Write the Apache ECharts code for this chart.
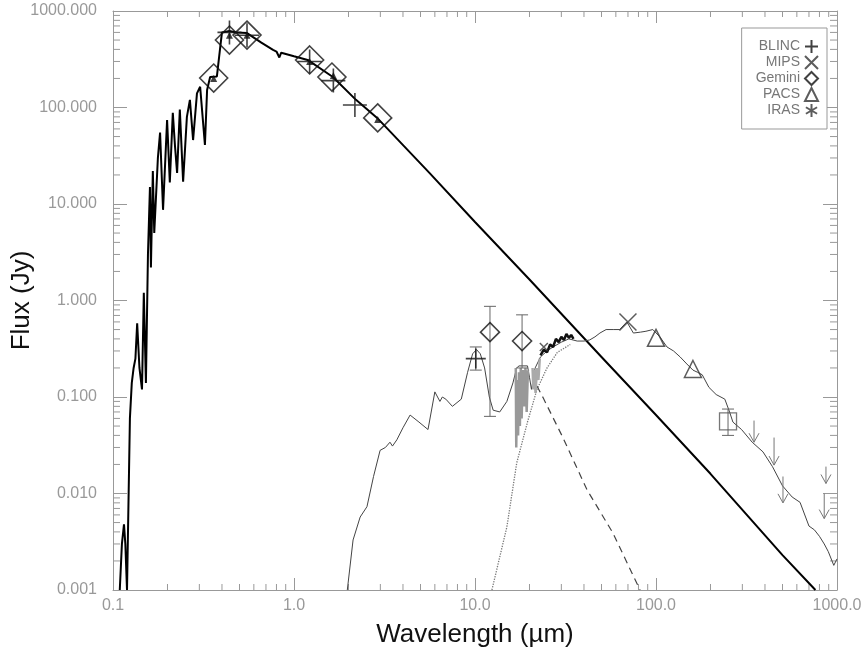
<!DOCTYPE html>
<html><head><meta charset="utf-8">
<script src="https://cdn.jsdelivr.net/npm/echarts@6/dist/echarts.min.js"></script>
<style>html,body{margin:0;padding:0;background:#fff}#c{width:865px;height:654px}</style>
</head><body><div id="c"></div>
<script>
// ---------- tick labels ----------
const xTickLabels = ['0.1', '1.0', '10.0', '100.0', '1000.0'];
const yTickLabels = ['0.001', '0.010', '0.100', '1.000', '10.000', '100.000', '1000.000'];

// ---------- model curves [wavelength um, flux Jy] ----------
const photosphere = [
  [0.109,0.001],[0.112,0.003],[0.115,0.0048],[0.117,0.003],[0.1195,0.001],
  [0.121,0.001],[0.124,0.06],[0.127,0.14],[0.130,0.2],[0.133,0.25],[0.136,0.58],[0.140,0.2],
  [0.1446,0.12],[0.148,1.2],[0.152,0.14],[0.156,3],[0.160,15],[0.162,2.2],[0.166,22],[0.169,5],
  [0.177,30],[0.182,55],[0.189,8.7],[0.199,74],[0.206,16.7],[0.214,88],[0.220,40],[0.226,21],
  [0.234,95],[0.244,17],[0.256,80],[0.266,120],[0.277,46],[0.291,140],[0.303,164],[0.322,41],
  [0.331,152],[0.344,207],[0.375,210],[0.39,400],[0.40,600],[0.44,620],[0.48,600],[0.55,590],
  [0.66,470],[0.766,395],[0.80,380],[0.83,330],[0.85,370],[1.0,340],[1.19,311],[1.64,207],
  [2.2,120],[2.88,78],[5.6,21],[10,6.5],[20,1.65],[50,0.26],[100,0.065],[200,0.016],
  [500,0.0023],[760,0.001]
];
const diskModel = [
  [1.97,0.001],[2.12,0.0033],[2.32,0.0057],[2.53,0.0073],[2.75,0.015],[2.99,0.028],[3.2,0.03],
  [3.39,0.034],[3.5,0.031],[3.70,0.036],[4.0,0.048],[4.38,0.065],[4.9,0.055],[5.5,0.046],
  [6.0,0.113],[6.4,0.09],[6.6,0.1],[6.9,0.095],[7.5,0.08],[8.4,0.095],[9.1,0.18],[9.7,0.28],
  [10.2,0.31],[10.7,0.28],[11.3,0.2],[12.0,0.1],[12.6,0.073],[13.7,0.07],[15,0.09],[16.2,0.14],
  [17.0,0.2],[17.5,0.21],[19.5,0.21],[20,0.16],[20.5,0.12],[21.5,0.2],[23,0.26],[25,0.3],
  [27,0.33],[30,0.37],[33,0.4],[36.7,0.38],[40,0.38],[43,0.39],[46,0.42],[49,0.46],[53,0.5],
  [58,0.5],[63,0.5],[69,0.6],[75,0.46],[82,0.47],[88,0.48],[96,0.5],[105,0.42],[115,0.33],
  [125,0.3],[136,0.26],[148,0.22],[160,0.19],[170,0.18],[180,0.17],[196,0.126],[215,0.106],
  [240,0.095],[255,0.07],[266,0.055],[297,0.046],[340,0.034],[390,0.027],[440,0.019],
  [500,0.012],[565,0.0092],[625,0.0081],[700,0.0046],[750,0.0042],[800,0.0036],[850,0.003],
  [895,0.0025],[960,0.0018],[1000,0.0021]
];
const coldDust = [[12.4,0.001],[15,0.0045],[17,0.0207],[19.5,0.055],[22,0.12],[25,0.2],[28.5,0.29],[33.6,0.35]];
const warmDust = [[22,0.13],[23.8,0.098],[30.6,0.038],[41.6,0.0109],[57.8,0.0039],[81.6,0.001]];
const irsA = [[16.8,0.2],[16.9,0.03],[17.1,0.15],[17.3,0.04],[17.5,0.18],[17.7,0.05],[17.9,0.2],
  [18.1,0.06],[18.4,0.19],[18.7,0.08],[19.0,0.2],[19.3,0.07],[19.6,0.19]];
const irsB = [[20.8,0.2],[21.0,0.12],[21.3,0.19],[21.6,0.11],[22.0,0.2],[22.4,0.15],[22.8,0.25]];
const irsC = [[23,0.27],[24,0.31],[25,0.29],[26,0.35],[27,0.33],[28,0.4],[29,0.37],[30,0.42],
  [31,0.39],[32,0.45],[33,0.41],[34,0.44],[35,0.4]];

// ---------- photometry ----------
const blinc = [[0.44,600],[0.55,560],[1.22,300],[1.65,190],[2.17,106],[10.1,0.25]];
const mips = [[24,0.33],[70,0.6]];
const gemini = [[0.36,202],[0.44,500],[0.55,563],[1.22,311],[1.62,207],[2.9,78],[12.1,0.47],[18.2,0.38]];
const pacs = [[100,0.41],[160,0.195]];
const iras = [];
const spire = [[250,0.056]];
const optPhot = [[0.36,200],[0.44,560],[0.55,560],[1.22,300],[1.65,215],[2.9,75]];
// error bars [wavelength, low, high]
const errBars = [[12.1,0.063,0.87],[18.2,0.2,0.71],[10.1,0.19,0.33],[250,0.04,0.075]];
// upper limits [wavelength, start, arrow head]
const upperLimits = [[348,0.057,0.034],[449,0.038,0.0197],[503,0.015,0.008],[869,0.019,0.0127],[850,0.01,0.0055]];

// ---------- minor ticks ----------
const minorX = [], minorY = [];
for (let e = -1; e < 3; e++) for (let m = 2; m < 10; m++) minorX.push([m * Math.pow(10, e), 1]);
for (let e = -3; e < 3; e++) for (let m = 2; m < 10; m++) minorY.push([1, m * Math.pow(10, e)]);

const AXC = '#999';
const FONT = 'Liberation Sans, Arial, sans-serif';
const SYM_PLUS = 'path://M0,5L10,5M5,0L5,10';
const SYM_X = 'path://M0,0L10,10M10,0L0,10';
const SYM_AST = 'path://M5,0L5,10M0.7,2.5L9.3,7.5M0.7,7.5L9.3,2.5';

function lineSeries(name, data, color, width, type) {
  return { name, type: 'line', data, showSymbol: false, symbol: 'none', silent: true,
    lineStyle: { color, width, type: type || 'solid' }, z: 2 };
}

const chart = echarts.init(document.getElementById('c'), null, { renderer: 'canvas' });
const option = {
  animation: false,
  backgroundColor: '#fff',
  textStyle: { fontFamily: FONT },
  grid: { left: 113, right: 28, top: 11, bottom: 64, containLabel: false, outerBoundsMode: 'none' },
  legend: {
    orient: 'vertical', right: 38, top: 28, align: 'right',
    itemWidth: 13, itemHeight: 13, itemGap: 1,
    padding: [11, 8, 11, 14],
    borderColor: '#999', borderWidth: 1, backgroundColor: '#fff',
    textStyle: { fontSize: 14, color: '#777', fontFamily: FONT },
    data: ['BLINC', 'MIPS', 'Gemini', 'PACS', 'IRAS']
  },
  xAxis: [{
    type: 'log', logBase: 10, min: 0.1, max: 1000, position: 'bottom',
    name: 'Wavelength (µm)', nameLocation: 'middle', nameGap: 32, nameMoveOverlap: false,
    nameTextStyle: { fontSize: 26, color: '#111', fontFamily: FONT },
    axisLine: { show: true, lineStyle: { color: AXC, width: 1 } },
    axisTick: { show: true, inside: true, length: 12, lineStyle: { color: AXC } },
    axisLabel: { fontSize: 16, color: '#999', margin: 8, fontFamily: FONT,
      formatter: v => xTickLabels[Math.round(Math.log10(v)) + 1] },
    splitLine: { show: false }
  }, {
    type: 'log', logBase: 10, min: 0.1, max: 1000, position: 'top',
    axisLine: { show: true, lineStyle: { color: AXC, width: 1 } },
    axisTick: { show: true, inside: true, length: 12, lineStyle: { color: AXC } },
    axisLabel: { show: false }, splitLine: { show: false }
  }],
  yAxis: [{
    type: 'log', logBase: 10, min: 0.001, max: 1000, position: 'left',
    name: 'Flux (Jy)', nameLocation: 'middle', nameGap: 78, nameRotate: 90, nameMoveOverlap: false,
    nameTextStyle: { fontSize: 26, color: '#111', fontFamily: FONT },
    axisLine: { show: true, lineStyle: { color: AXC, width: 1 } },
    axisTick: { show: true, inside: true, length: 14, lineStyle: { color: AXC } },
    axisLabel: { fontSize: 16, color: '#999', margin: 16, fontFamily: FONT,
      formatter: v => yTickLabels[Math.round(Math.log10(v)) + 3] },
    splitLine: { show: false }
  }, {
    type: 'log', logBase: 10, min: 0.001, max: 1000, position: 'right',
    axisLine: { show: true, lineStyle: { color: AXC, width: 1 } },
    axisTick: { show: true, inside: true, length: 14, lineStyle: { color: AXC } },
    axisLabel: { show: false }, splitLine: { show: false }
  }],
  series: [
    // minor ticks
    { type: 'custom', silent: true, data: minorX, encode: { x: 0, y: 1 }, z: 1,
      renderItem: (params, api) => {
        const cs = params.coordSys;
        const x = api.coord([api.value(0), 1])[0];
        const yb = cs.y + cs.height, yt = cs.y;
        const st = { stroke: AXC, lineWidth: 1 };
        return { type: 'group', children: [
          { type: 'line', shape: { x1: x, y1: yb, x2: x, y2: yb - 6 }, style: st },
          { type: 'line', shape: { x1: x, y1: yt, x2: x, y2: yt + 6 }, style: st } ] };
      } },
    { type: 'custom', silent: true, data: minorY, encode: { x: 0, y: 1 }, z: 1,
      renderItem: (params, api) => {
        const cs = params.coordSys;
        const y = api.coord([1, api.value(1)])[1];
        const xl = cs.x, xr = cs.x + cs.width;
        const st = { stroke: AXC, lineWidth: 1 };
        return { type: 'group', children: [
          { type: 'line', shape: { x1: xl, y1: y, x2: xl + 7, y2: y }, style: st },
          { type: 'line', shape: { x1: xr, y1: y, x2: xr - 7, y2: y }, style: st } ] };
      } },
    // models
    lineSeries('Photosphere', photosphere, '#000', 2),
    lineSeries('Disk model', diskModel, '#444', 1),
    lineSeries('Cold dust', coldDust, '#777', 1.3, 'dotted'),
    lineSeries('Warm dust', warmDust, '#444', 1.2, [7, 5]),
    lineSeries('IRS a', irsA, '#999', 2.5),
    lineSeries('IRS b', irsB, '#aaa', 2.5),
    lineSeries('IRS c', irsC, '#111', 2.5),
    // error bars
    { type: 'custom', silent: true, data: errBars, encode: { x: 0, y: [1, 2] }, z: 3,
      renderItem: (params, api) => {
        const x = api.value(0);
        const p1 = api.coord([x, api.value(1)]), p2 = api.coord([x, api.value(2)]);
        const st = { stroke: '#666', lineWidth: 1 };
        const c = 6;
        return { type: 'group', children: [
          { type: 'line', shape: { x1: p1[0], y1: p1[1], x2: p2[0], y2: p2[1] }, style: st },
          { type: 'line', shape: { x1: p1[0] - c, y1: p1[1], x2: p1[0] + c, y2: p1[1] }, style: st },
          { type: 'line', shape: { x1: p2[0] - c, y1: p2[1], x2: p2[0] + c, y2: p2[1] }, style: st } ] };
      } },
    // upper limits
    { type: 'custom', silent: true, data: upperLimits, encode: { x: 0, y: [1, 2] }, z: 3,
      renderItem: (params, api) => {
        const x = api.value(0);
        const p1 = api.coord([x, api.value(1)]), p2 = api.coord([x, api.value(2)]);
        const st = { stroke: '#777', lineWidth: 1 };
        return { type: 'group', children: [
          { type: 'line', shape: { x1: p1[0], y1: p1[1], x2: p2[0], y2: p2[1] }, style: st },
          { type: 'polyline', shape: { points: [[p2[0] - 5, p2[1] - 9], [p2[0], p2[1]], [p2[0] + 5, p2[1] - 9]] }, style: { stroke: '#777', lineWidth: 1, fill: null } } ] };
      } },
    // photometry
    { name: 'Gemini', type: 'scatter', data: gemini, symbol: 'diamond',
      symbolSize: v => (v[0] < 5 ? 28 : 19), z: 4,
      itemStyle: { color: 'rgba(0,0,0,0)', borderColor: '#111', borderWidth: 1.6 } },
    { name: 'BLINC', type: 'scatter', data: blinc, symbol: SYM_PLUS,
      symbolSize: v => (v[0] < 5 ? 24 : 20), z: 5,
      itemStyle: { color: 'rgba(0,0,0,0)', borderColor: '#111', borderWidth: 1.6 } },
    { name: 'MIPS', type: 'scatter', data: mips, symbol: SYM_X,
      symbolSize: v => (v[0] < 40 ? 8 : 17), z: 5,
      itemStyle: { color: 'rgba(0,0,0,0)', borderColor: '#333', borderWidth: 1.5 } },
    { name: 'PACS', type: 'scatter', data: pacs, symbol: 'triangle', symbolSize: 17, z: 5,
      itemStyle: { color: 'rgba(0,0,0,0)', borderColor: '#333', borderWidth: 1.5 } },
    { name: 'IRAS', type: 'scatter', data: iras, symbol: SYM_AST, symbolSize: 14, z: 5,
      itemStyle: { color: 'rgba(0,0,0,0)', borderColor: '#333', borderWidth: 1.3 } },
    { name: 'SPIRE', type: 'scatter', data: spire, symbol: 'rect', symbolSize: 17, z: 5,
      itemStyle: { color: 'rgba(0,0,0,0)', borderColor: '#555', borderWidth: 1.3 } },
    { name: 'Optical', type: 'scatter', data: optPhot, symbol: 'triangle', symbolSize: 7, z: 5,
      itemStyle: { color: '#111' } }
  ]
};
chart.setOption(option);
</script>
</body></html>
